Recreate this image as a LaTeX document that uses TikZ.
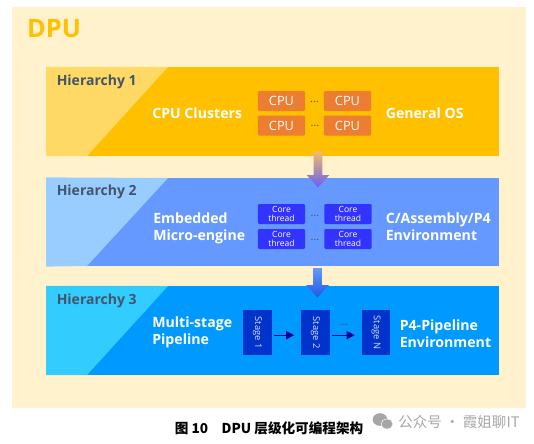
\documentclass[tikz,border=0pt]{standalone}
\usepackage{fontspec}
\setmainfont{Open Sans}
\newfontfamily\cjkfont{Noto Sans CJK SC}
\usepackage{xcolor}
\usetikzlibrary{arrows.meta,shapes.arrows,shapes.geometric}
\definecolor{creambg}{HTML}{FFF2CC}
\definecolor{amberband}{HTML}{FFC000}
\definecolor{amberlight}{HTML}{FFD966}
\definecolor{blueband}{HTML}{6699FF}
\definecolor{bluelight}{HTML}{99CCFF}
\definecolor{skyband}{HTML}{0099FF}
\definecolor{skylight}{HTML}{33CCFF}
\definecolor{slatetext}{HTML}{44546A}
\definecolor{cpuorange}{HTML}{ED7D31}
\definecolor{coreblue}{HTML}{3333FF}
\definecolor{stageblue}{HTML}{0033CC}
\definecolor{navyarrow}{HTML}{000099}
\definecolor{wmgrey}{HTML}{A6A6A6}
\definecolor{arrowtan}{HTML}{F2BE6A}
\definecolor{arrowviolet}{HTML}{6A5CF5}
\definecolor{arrowdeep}{HTML}{2058E0}

\begin{document}
\begin{tikzpicture}[
  x=0.75pt, y=-0.75pt,
  band/.style={inner sep=0pt, minimum width=339pt, minimum height=66.5pt},
  hiertext/.style={font=\fontsize{10.5pt}{12pt}\selectfont\bfseries, text=slatetext, anchor=west, inner sep=0pt},
  bandtext/.style={font=\fontsize{10.6pt}{12.8pt}\selectfont\bfseries, text=white, align=left, anchor=west, inner sep=0pt},
  cpubox/.style={fill=cpuorange, text=white, inner sep=0pt, minimum width=35.5pt, minimum height=15pt,
                 rounded corners=1pt, font=\fontsize{9.6pt}{10pt}\selectfont},
  corebox/.style={fill=coreblue, text=white, inner sep=0pt, minimum width=35.5pt, minimum height=15pt, align=center,
                  rounded corners=1pt, font=\fontsize{6.4pt}{7.2pt}\selectfont},
  stagebox/.style={fill=stageblue, text=white!85!stageblue, inner sep=0pt, minimum width=33.75pt, minimum height=21.5pt,
                   rotate=-90, font=\fontsize{7pt}{8pt}\selectfont},
  dotstext/.style={text=slatetext, inner sep=0pt, font=\fontsize{8pt}{9pt}\selectfont},
  downarrow/.style={single arrow, shape border rotate=270, inner sep=3pt, minimum width=16.5pt,
                    single arrow head extend=5.25pt, single arrow tip angle=85},
  arr/.style={-{Triangle[length=6pt,width=6pt]}, thick, draw=navyarrow, shorten >=5pt, shorten <=1.5pt},
]
\useasboundingbox (0,0) rectangle (534,443);

% Background
\node[fill=creambg, inner sep=0pt, minimum width=385.5pt, minimum height=300.75pt] (panel) at (269,207.5) {};
\node[font=\fontsize{19pt}{21pt}\selectfont\bfseries, text=amberband, inner sep=0pt] (dpu) at (54,29) {DPU};

% Hierarchy 1
\node[band, fill=amberband] (hier1) at (272.5,111.5) {};
\fill[amberlight] (hier1.north west) -- (168,67) -- (87,156) -- (hier1.south west) -- cycle;
\node[hiertext] (title1) at (56.5,82) {Hierarchy 1};
\node[bandtext] (name1) at (152,113) {CPU Clusters};
\node[bandtext] (env1) at (385.5,113) {General OS};
\node[cpubox] (cpu1) at (281.5,101) {CPU};
\node[cpubox] (cpu2) at (347.5,101) {CPU};
\node[cpubox] (cpu3) at (281.5,125.5) {CPU};
\node[cpubox] (cpu4) at (347.5,125.5) {CPU};
\node[dotstext] (dots1) at (314.5,102) {...};
\node[dotstext] (dots2) at (315,126) {...};

% Hierarchy 2
\node[band, fill=blueband] (hier2) at (272.5,222) {};
\fill[bluelight] (hier2.north west) -- (168,178) -- (87,266) -- (hier2.south west) -- cycle;
\node[hiertext] (title2) at (56.5,192) {Hierarchy 2};
\node[bandtext] (name2) at (153,228) {Embedded\\Micro-engine};
\node[bandtext] (env2) at (385.5,227) {C/Assembly/P4\\Environment};
\node[corebox] (core1) at (281.5,214) {Core\\thread};
\node[corebox] (core2) at (348,214) {Core\\thread};
\node[corebox] (core3) at (281.5,239) {Core\\thread};
\node[corebox] (core4) at (348,239) {Core\\thread};
\node[dotstext] (dots3) at (315,216) {...};
\node[dotstext] (dots4) at (315,240) {...};

% Hierarchy 3
\node[band, fill=skyband] (hier3) at (272.5,330.5) {};
\fill[skylight] (hier3.north west) -- (168,286) -- (87,375) -- (hier3.south west) -- cycle;
\node[hiertext] (title3) at (56.5,301) {Hierarchy 3};
\node[bandtext] (name3) at (152,332) {Multi-stage\\Pipeline};
\node[bandtext] (env3) at (399.5,334) {P4-Pipeline\\Environment};
\node[stagebox] (stage1) at (257.5,332.5) {Stage 1};
\node[stagebox] (stage2) at (315.5,332.5) {Stage 2};
\node[stagebox] (stageN) at (376,332.5) {Stage N};
\node[dotstext] (dots5) at (344,325) {...};

% Arrows: inside the pipeline
\draw[arr] ([yshift=-2pt]stage1.north) -- ([yshift=-2pt]stage2.south);
\draw[arr] ([yshift=-2pt]stage2.north) -- ([yshift=-2pt]stageN.south);

% Arrows: between the levels
\node[downarrow, top color=arrowtan, bottom color=arrowviolet, minimum height=27pt] (down1) at (318,167) {};
\node[downarrow, top color=blueband, bottom color=arrowdeep, minimum height=22pt] (down2) at (317.5,280.5) {};

% Caption
\node[font=\fontsize{10.2pt}{11pt}\selectfont\cjkfont\bfseries, inner sep=0pt] (caption) at (269,428) {图 10\hspace{1em}DPU 层级化可编程架构};

% Watermark
\node[fill=wmgrey, ellipse, inner sep=0pt, minimum width=11pt, minimum height=9.5pt] (wechat1) at (380,419.5) {};
\node[fill=wmgrey, draw=white, ellipse, inner sep=0pt, minimum width=9pt, minimum height=7.5pt] (wechat2) at (387,424) {};
\node[font=\fontsize{10.9pt}{12pt}\selectfont\cjkfont, text=wmgrey, anchor=west, inner sep=0pt] (wmtext) at (398,422) {公众号 · 霞姐聊IT};

\end{tikzpicture}
\end{document}
